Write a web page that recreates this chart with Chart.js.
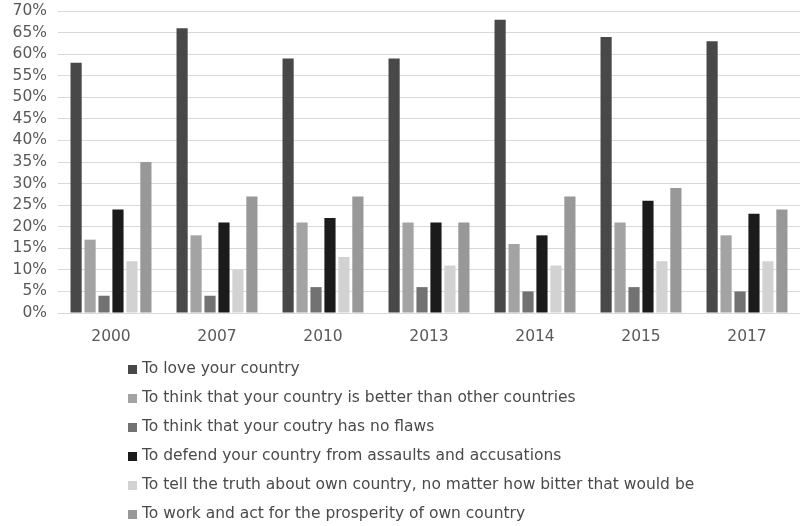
<!DOCTYPE html>
<html>
<head>
<meta charset="utf-8">
<script src="https://cdn.jsdelivr.net/npm/chart.js@4/dist/chart.umd.min.js"></script>
<style>
html,body{margin:0;padding:0;background:#fff;}
#wrap{width:800px;height:526px;position:relative;}
</style>
</head>
<body>
<div id="wrap"><canvas id="c" width="800" height="526"></canvas></div>
<script>
const categories = ['2000','2007','2010','2013','2014','2015','2017'];
const seriesNames = [
  'To love your country',
  'To think that your country is better than other countries',
  'To think that your coutry has no flaws',
  'To defend your country from assaults and accusations',
  'To tell the truth about own country, no matter how bitter that would be',
  'To work and act for the prosperity of own country'
];
const loveCountry   = [58, 66, 59, 59, 68, 64, 63];
const betterCountry = [17, 18, 21, 21, 16, 21, 18];
const noFlaws       = [4, 4, 6, 6, 5, 6, 5];
const defendCountry = [24, 21, 22, 21, 18, 26, 23];
const tellTruth     = [12, 10, 13, 11, 11, 12, 12];
const workProsper   = [35, 27, 27, 21, 27, 29, 24];
const yTicks = [0,5,10,15,20,25,30,35,40,45,50,55,60,65,70];

const colors = ['#484848','#a3a3a3','#727272','#1b1b1b','#d2d2d2','#989898'];
const values = [loveCountry, betterCountry, noFlaws, defendCountry, tellTruth, workProsper];

const FONT = '"DejaVu Sans", Verdana, sans-serif';

const legendPlugin = {
  id: 'vlegend',
  afterDraw(chart) {
    const ctx = chart.ctx;
    ctx.save();
    ctx.font = '15.5px ' + FONT;
    ctx.textBaseline = 'middle';
    chart.data.datasets.forEach((ds, i) => {
      const y = 369 + i * 29;
      ctx.fillStyle = ds.backgroundColor;
      ctx.fillRect(128, y - 4, 9, 9);
      ctx.fillStyle = '#4a4a4a';
      ctx.fillText(ds.label, 142, y);
    });
    ctx.restore();
  }
};

new Chart(document.getElementById('c'), {
  type: 'bar',
  data: {
    labels: categories,
    datasets: seriesNames.map((n, i) => ({
      label: n,
      data: values[i],
      backgroundColor: colors[i],
      borderWidth: 0,
      categoryPercentage: 0.79,
      barPercentage: 0.8
    }))
  },
  options: {
    responsive: false,
    animation: false,
    layout: { padding: { top: 11, right: 0, left: 0, bottom: 0 } },
    plugins: { legend: { display: false }, tooltip: { enabled: false } },
    scales: {
      x: {
        grid: { display: false, drawTicks: false },
        border: { color: '#d9d9d9', width: 1 },
        ticks: { color: '#595959', font: { family: FONT, size: 15.5 }, padding: 15, autoSkip: false, maxRotation: 0 },
        afterFit(s) { s.height = 213; s.paddingLeft = 0; s.paddingRight = 0; }
      },
      y: {
        min: 0, max: 70,
        afterBuildTicks(s) { s.ticks = yTicks.map(v => ({ value: v })); },
        grid: { color: '#d9d9d9', lineWidth: 1, drawTicks: false },
        border: { display: false },
        ticks: {
          color: '#595959', font: { family: FONT, size: 15.5 }, padding: 11, autoSkip: false,
          callback: v => v + '%'
        },
        afterFit(s) { s.width = 58; s.paddingTop = 0; s.paddingBottom = 0; }
      }
    }
  },
  plugins: [legendPlugin]
});
</script>
</body>
</html>
